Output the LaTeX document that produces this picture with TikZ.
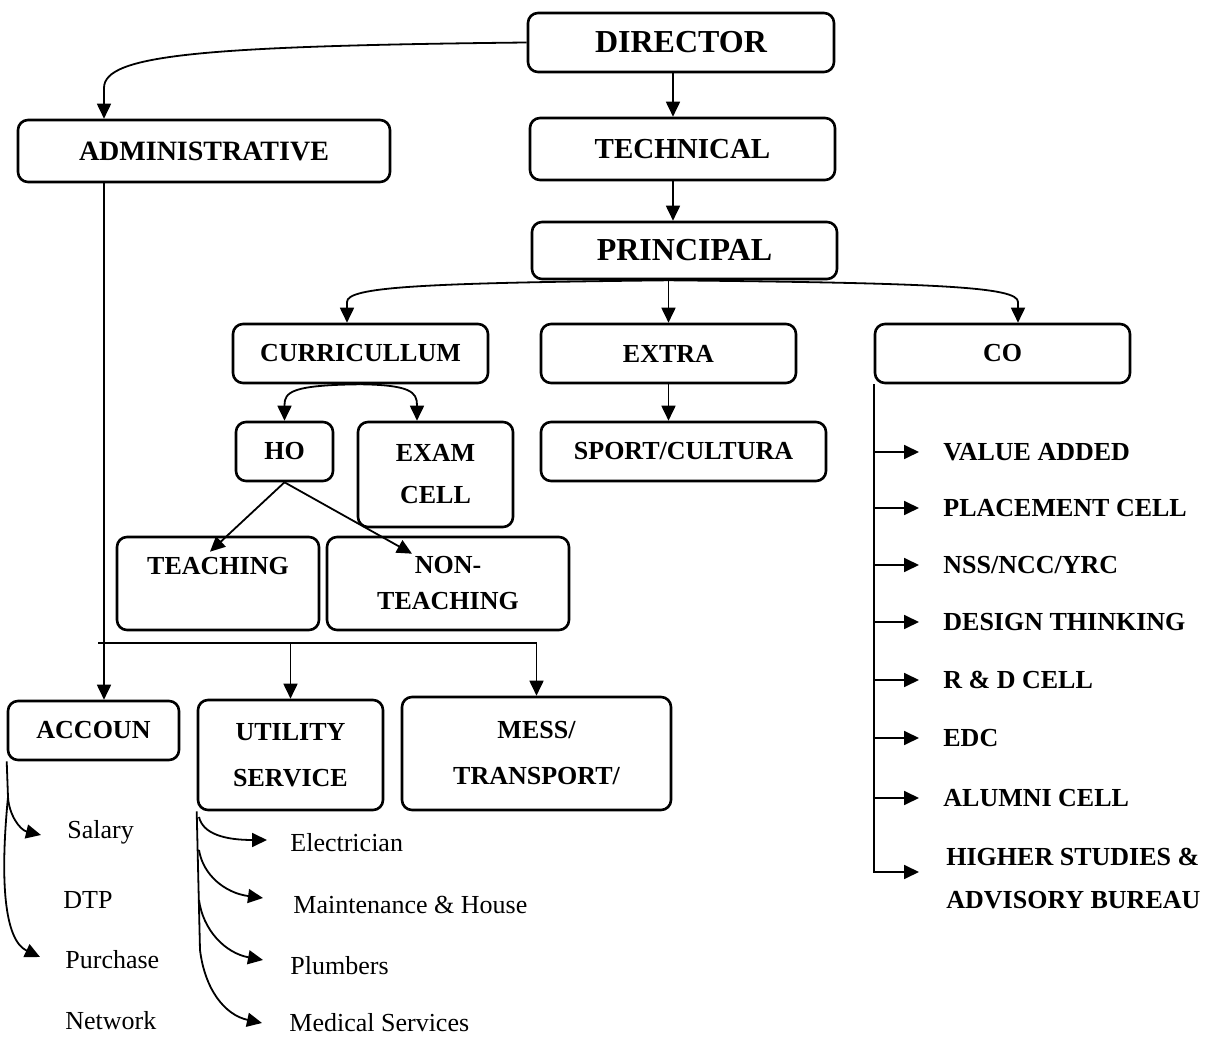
\documentclass[tikz,border=0pt]{standalone}
\usepackage{fontspec}
\setmainfont{Liberation Serif}
\usetikzlibrary{arrows.meta}

\tikzset{
  box/.style={draw, line width=1.3pt, rounded corners=5pt, align=center, inner sep=2pt,
    font=\bfseries\fontsize{13}{15}\selectfont},
  arr/.style={-{Triangle[length=7.5pt,width=7pt]}, line width=0.9pt},
  link/.style={line width=0.9pt},
  item/.style={anchor=west, inner sep=0pt, font=\fontsize{13}{15}\selectfont},
  unit/.style={anchor=west, inner sep=0pt, align=left, font=\bfseries\fontsize{13}{21.5}\selectfont}
}

\begin{document}
\begin{tikzpicture}[x=0.5pt, y=-0.5pt]
  \useasboundingbox (0,0) rectangle (1212,1037);

  % Draw the top boxes
  \node[box, minimum width=153pt, minimum height=29.5pt, font=\bfseries\fontsize{16}{18}\selectfont] (director) at (681,42.5) {DIRECTOR};
  \node[box, minimum width=152.5pt, minimum height=31pt, font=\bfseries\fontsize{14.5}{17}\selectfont] (technical) at (682.5,149) {TECHNICAL};
  \node[box, minimum width=152.5pt, minimum height=28.5pt, font=\bfseries\fontsize{16}{18}\selectfont] (principal) at (684.5,250.5) {PRINCIPAL};
  \node[box, minimum width=186pt, minimum height=31pt, font=\bfseries\fontsize{14}{16}\selectfont] (admin) at (204,151) {ADMINISTRATIVE};

  % Draw the second row
  \node[box, minimum width=127.5pt, minimum height=29.5pt] (curr) at (360.5,353.5) {CURRICULLUM};
  \node[box, minimum width=127.5pt, minimum height=29.5pt] (extra) at (668.5,353.5) {EXTRA};
  \node[box, minimum width=127.5pt, minimum height=29.5pt] (co) at (1002.5,353.5) {CO};

  % Draw the third row
  \node[box, minimum width=48.5pt, minimum height=29.5pt] (ho) at (284.5,451.5) {HO};
  \node[box, minimum width=77.5pt, minimum height=52.5pt, font=\bfseries\fontsize{13}{21}\selectfont] (exam) at (435.5,474.5) {EXAM\\CELL};
  \node[box, minimum width=142.5pt, minimum height=29.5pt] (sport) at (683.5,451.5) {SPORT/CULTURA};
  \node[box, minimum width=101pt, minimum height=46.5pt, font=\bfseries\fontsize{13}{18}\selectfont] (teach) at (218,583.5) {TEACHING\\\mbox{}};
  \node[box, minimum width=121pt, minimum height=46.5pt, font=\bfseries\fontsize{13}{18}\selectfont] (nonteach) at (448,583.5) {NON-\\TEACHING};

  % Draw the bottom boxes
  \node[box, minimum width=85.5pt, minimum height=29.5pt] (accoun) at (93.5,730.5) {ACCOUN};
  \node[box, minimum width=92.5pt, minimum height=55pt, font=\bfseries\fontsize{13}{23}\selectfont] (utility) at (290.5,755) {UTILITY\\SERVICE};
  \node[box, minimum width=134.5pt, minimum height=56.5pt, font=\bfseries\fontsize{13}{23}\selectfont] (mess) at (536.5,753.5) {MESS/\\TRANSPORT/};

  % Items under the accounts and utility boxes
  \node[item] (salary) at (67,832) {Salary};
  \node[item] (dtp) at (63,900) {DTP};
  \node[item] (purchase) at (65,960) {Purchase};
  \node[item] (network) at (65,1021) {Network};
  \node[item] (elec) at (290,843) {Electrician};
  \node[item] (maint) at (293,905) {Maintenance \& House};
  \node[item] (plumb) at (290,966) {Plumbers};
  \node[item] (medical) at (289,1023) {Medical Services};

  % Items under the CO box
  \node[unit] (value) at (943,452) {VALUE ADDED};
  \node[unit] (placement) at (943,508) {PLACEMENT CELL};
  \node[unit] (nss) at (943,565) {NSS/NCC/YRC};
  \node[unit] (design) at (943,622) {DESIGN THINKING};
  \node[unit] (rnd) at (943,680) {R \& D CELL};
  \node[unit] (edc) at (943,738) {EDC};
  \node[unit] (alumni) at (943,798) {ALUMNI CELL};
  \node[unit] (higher) at (946,878.5) {HIGHER STUDIES \&\\ADVISORY BUREAU};

  % Director to the two wings
  \coordinate (leg) at (104,0);
  \coordinate (trunk) at (673,0);
  \draw[arr] (director.west) .. controls (200,46) and (104,55) .. (104,88) -- (leg |- admin.north);
  \draw[arr] (trunk |- director.south) -- (trunk |- technical.north);
  \draw[arr] (trunk |- technical.south) -- (trunk |- principal.north);

  % Principal to the three sections
  \draw[arr] (extra.north |- principal.south) -- (extra.north);
  \draw[arr] (extra.north |- principal.south) .. controls (420,283) and (347,287) .. (347,302) -- ([xshift=-6.75pt]curr.north);
  \draw[arr] (extra.north |- principal.south) .. controls (940,283) and (1018,287) .. (1018,302) -- ([xshift=7.75pt]co.north);

  % Curriculum branch
  \draw[arr] (curr.south) .. controls (292,385) and (284.5,392) .. (284.5,405) -- (ho.north);
  \draw[arr] (curr.south) .. controls (410,385) and (417,392) .. (417,405) -- ([xshift=-9.25pt]exam.north);
  \draw[arr] (ho.south) -- ([xshift=-4pt,yshift=-8pt]teach.north);
  \draw[arr] (ho.south) -- ([xshift=-18pt,yshift=-9pt]nonteach.north);
  \draw[arr] (extra.south) -- (sport.north -| extra.south);

  % Administrative branch
  \coordinate (bar) at (98,643);
  \draw[arr] (leg |- admin.south) -- (leg |- accoun.north);
  \draw[link] (bar) -- (bar -| mess.north);
  \draw[arr] (bar -| utility.north) -- (utility.north);
  \draw[arr] (bar -| mess.north) -- (mess.north);

  % Accounts items
  \coordinate (accfork) at (8,797);
  \draw[link] (accoun.south west) -- (accfork);
  \draw[arr] (accfork) .. controls (9,815) and (20,830) .. ([xshift=-13pt,yshift=-1.5pt]salary.west);
  \draw[arr] (accfork) .. controls (0,880) and (4,940) .. ([xshift=-12.5pt,yshift=1.5pt]purchase.west);

  % Utility items
  \coordinate (utilfork) at (200,950);
  \draw[link] (utility.south west) -- (utilfork);
  \draw[arr] (199,817) .. controls (203,834) and (225,840) .. ([xshift=-11.5pt,yshift=1.5pt]elec.west);
  \draw[arr] (199,850) .. controls (203,875) and (225,893) .. ([xshift=-15pt,yshift=3.5pt]maint.west);
  \draw[arr] (199,900) .. controls (203,930) and (225,953) .. ([xshift=-13.5pt,yshift=3pt]plumb.west);
  \draw[arr] (utilfork) .. controls (205,990) and (225,1015) .. ([xshift=-13.5pt,yshift=0pt]medical.west);

  % CO items
  \draw[link] (co.south west) -- (co.south west |- edc.west);
  \draw[arr] (co.south west |- value.west) -- ([xshift=-12pt]value.west);
  \draw[arr] (co.south west |- placement.west) -- ([xshift=-12pt]placement.west);
  \draw[arr] (co.south west |- nss.west) -- ([xshift=-12pt]nss.west);
  \draw[arr] (co.south west |- design.west) -- ([xshift=-12pt]design.west);
  \draw[arr] (co.south west |- rnd.west) -- ([xshift=-12pt]rnd.west);
  \draw[arr] (co.south west |- edc.west) -- ([xshift=-12pt]edc.west);
  \draw[arr] (co.south west |- alumni.west) -- ([xshift=-12pt]alumni.west);
  \draw[arr] (co.south west |- edc.west) |- ([xshift=-13.5pt,yshift=3.25pt]higher.west);

\end{tikzpicture}
\end{document}
